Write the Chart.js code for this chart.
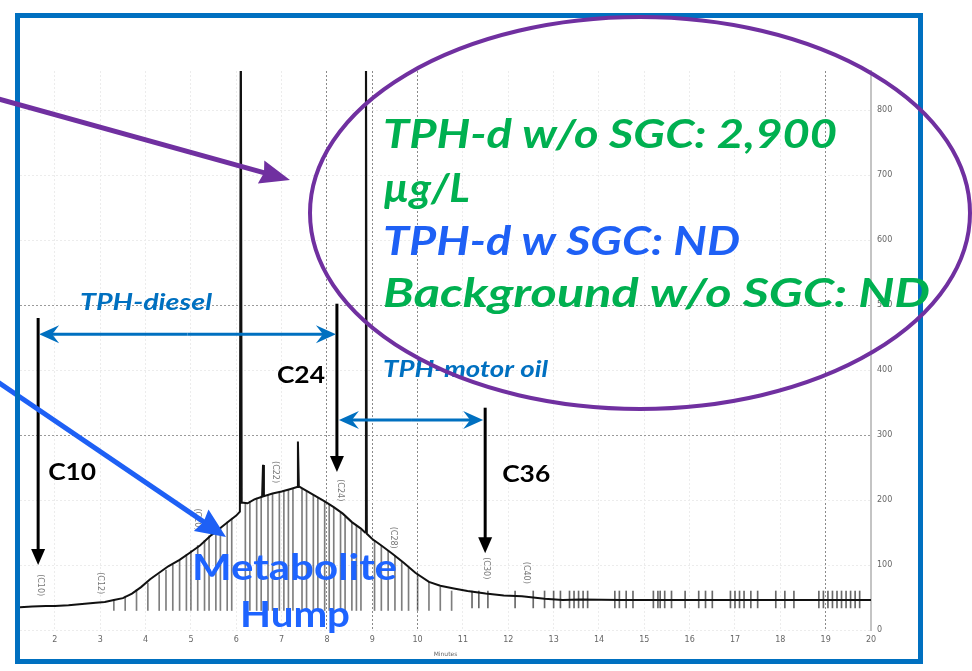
<!DOCTYPE html>
<html>
<head>
<meta charset="utf-8">
<script src="https://cdn.jsdelivr.net/npm/chart.js@4.4.1/dist/chart.umd.min.js"></script>
<style>
  html, body { margin: 0; padding: 0; background: #fff; }
  #wrap { width: 972px; height: 671px; }
</style>
</head>
<body>
<div id="wrap"><canvas id="chrom" width="972" height="671"></canvas></div>
<script>
// Chromatogram trace: retention time (minutes) and detector response
const traceTimes = [1.23, 1.5, 1.8, 2.0, 2.3, 2.6, 2.9, 3.1, 3.3, 3.5, 3.7, 3.9, 4.1, 4.3, 4.5, 4.75, 5.0, 5.2, 5.45, 5.65, 5.85, 6.0, 6.08, 6.1, 6.12, 6.25, 6.4, 6.57, 6.59, 6.61, 6.8, 7.0, 7.2, 7.34, 7.36, 7.38, 7.55, 7.75, 7.95, 8.15, 8.35, 8.55, 8.75, 8.84, 8.86, 8.88, 9.0, 9.2, 9.45, 9.7, 9.95, 10.25, 10.5, 10.8, 11.1, 11.5, 11.9, 12.3, 12.8, 13.2, 13.6, 14.5, 15.5, 16.5, 17.5, 18.5, 19.5, 20];
const traceSignal = [35, 36, 37, 37, 38, 40, 42, 43, 46, 49, 56, 66, 78, 88, 98, 108, 120, 130, 146, 157, 168, 176, 182, 1000, 196, 195, 201, 205, 254, 206, 210, 213, 217, 220, 290, 221, 214, 206, 198, 189, 179, 166, 156, 150, 1000, 148, 140, 130, 117, 103, 88, 74, 68, 64, 60, 56, 53, 52, 48, 46, 47, 46, 46, 46, 46, 46, 46, 46];

// thin scan lines under the hump
const humpLineTimes = [3.3, 3.55, 3.8, 4.05, 4.3, 4.45, 4.6, 4.75, 4.9, 5.0, 5.15, 5.3, 5.4, 5.55, 5.65, 5.8, 5.9, 6.2, 6.3, 6.45, 6.55, 6.7, 6.8, 6.95, 7.05, 7.15, 7.25, 7.45, 7.55, 7.7, 7.8, 7.95, 8.05, 8.15, 8.3, 8.4, 8.55, 8.65, 8.75, 9.05, 9.2, 9.35, 9.5, 9.65, 9.8, 10.0, 10.25, 10.5, 10.75];
const humpLineTops = [47, 52, 62, 72, 85, 92, 100, 107, 116, 122, 130, 138, 145, 152, 158, 166, 172, 196, 198, 203, 206, 208, 210, 212, 214, 216, 218, 218, 214, 208, 204, 198, 193, 188, 180, 174, 165, 160, 154, 138, 130, 121, 114, 104, 96, 86, 74, 66, 60];
const humpLineBase = 30;

// short marks on the late baseline
const baseMarkTimes = [11.2, 11.35, 11.55, 12.15, 12.55, 12.8, 13.0, 13.15, 13.35, 13.45, 13.55, 13.65, 13.75, 14.35, 14.45, 14.6, 14.75, 15.2, 15.3, 15.35, 15.45, 15.6, 15.9, 16.2, 16.35, 16.5, 16.9, 17.0, 17.1, 17.2, 17.35, 17.5, 17.9, 18.1, 18.3, 18.85, 18.95, 19.05, 19.15, 19.25, 19.35, 19.45, 19.55, 19.65, 19.75];
const baseMarkRange = [34, 60];

// axes
const minuteTicks = [2, 3, 4, 5, 6, 7, 8, 9, 10, 11, 12, 13, 14, 15, 16, 17, 18, 19, 20];
const responseTicks = [0, 100, 200, 300, 400, 500, 600, 700, 800];
const strongMinutes = [8, 9, 10, 19];
const strongLevels = [300, 500];

// n-alkane retention markers printed on the trace
const alkaneLabels = ['(C10)', '(C12)', '(C20)', '(C22)', '(C24)', '(C28)', '(C30)', '(C40)'];
const alkaneTimes = [1.67, 3.0, 5.13, 6.85, 8.29, 9.46, 11.5, 12.4];
const alkaneLevels = [69, 72, 170, 243, 215, 142, 95, 88];

// carbon range arrows
const carbonNames = ['C10', 'C24', 'C36'];
const carbonTimes = [1.63, 8.22, 11.49];
const carbonFrom = [480, 502, 342];
const carbonTo = [100, 243, 118];

function arrow(ctx, x1, y1, x2, y2, color, width, len, half, notch) {
  const a = Math.atan2(y2 - y1, x2 - x1);
  ctx.save();
  ctx.strokeStyle = color;
  ctx.fillStyle = color;
  ctx.lineWidth = width;
  ctx.beginPath();
  ctx.moveTo(x1, y1);
  ctx.lineTo(x2 - Math.cos(a) * len * 0.6, y2 - Math.sin(a) * len * 0.6);
  ctx.stroke();
  ctx.translate(x2, y2);
  ctx.rotate(a);
  ctx.beginPath();
  ctx.moveTo(0, 0);
  ctx.lineTo(-len, -half);
  ctx.lineTo(-len * (1 - notch), 0);
  ctx.lineTo(-len, half);
  ctx.closePath();
  ctx.fill();
  ctx.restore();
}

function fitText(ctx, str, x, baseY, width, font, color) {
  ctx.save();
  ctx.font = font;
  ctx.fillStyle = color;
  ctx.textBaseline = 'alphabetic';
  ctx.textAlign = 'left';
  const w = ctx.measureText(str).width;
  ctx.translate(x, baseY);
  ctx.scale(width / w, 1);
  ctx.fillText(str, 0, 0);
  ctx.restore();
}

const overlay = {
  id: 'overlay',
  afterDatasetsDraw(chart) {
    const ctx = chart.ctx, xs = chart.scales.x, ys = chart.scales.y;
    ctx.save();
    ctx.font = '8px "DejaVu Sans"';
    ctx.fillStyle = '#777';
    ctx.textAlign = 'center';
    ctx.textBaseline = 'middle';
    alkaneLabels.forEach((lab, i) => {
      ctx.save();
      ctx.translate(xs.getPixelForValue(alkaneTimes[i]), ys.getPixelForValue(alkaneLevels[i]));
      ctx.rotate(Math.PI / 2);
      ctx.fillText(lab, 0, 0);
      ctx.restore();
    });
    ctx.restore();
  },
  afterDraw(chart) {
    const ctx = chart.ctx, xs = chart.scales.x, ys = chart.scales.y;

    // carbon arrows and range arrows
    const cx = carbonTimes.map(t => xs.getPixelForValue(t));
    carbonNames.forEach((n, i) => {
      arrow(ctx, cx[i], ys.getPixelForValue(carbonFrom[i]), cx[i], ys.getPixelForValue(carbonTo[i]), '#000', 3, 16, 7, 0);
    });
    const dieselY = ys.getPixelForValue(455), motorY = ys.getPixelForValue(323);
    arrow(ctx, (cx[0] + cx[1]) / 2, dieselY, cx[0] + 1, dieselY, '#0070C0', 3, 20, 9, 0.35);
    arrow(ctx, (cx[0] + cx[1]) / 2, dieselY, cx[1] - 1, dieselY, '#0070C0', 3, 20, 9, 0.35);
    arrow(ctx, (cx[1] + cx[2]) / 2, motorY, cx[1] + 2, motorY, '#0070C0', 3, 20, 9, 0.35);
    arrow(ctx, (cx[1] + cx[2]) / 2, motorY, cx[2] - 2, motorY, '#0070C0', 3, 20, 9, 0.35);
    fitText(ctx, 'TPH-diesel', 80, 310, 132, 'italic bold 22px Lato', '#0070C0');
    fitText(ctx, 'TPH-motor oil', 383, 377, 165, 'italic bold 22px Lato', '#0070C0');
    fitText(ctx, 'C10', cx[0] + 10, 480, 48, 'bold 22px Lato', '#000');
    fitText(ctx, 'C24', cx[1] - 60, 383, 48, 'bold 22px Lato', '#000');
    fitText(ctx, 'C36', cx[2] + 17, 482, 48, 'bold 22px Lato', '#000');

    // metabolite hump callout
    arrow(ctx, -5, 380, 226, 537, '#1E60F5', 5, 30, 13, 0.1);
    fitText(ctx, 'Metabolite', 192, 580, 205, 'bold 37px Lato', '#1E64FF');
    fitText(ctx, 'Hump', 240, 627, 110, 'bold 37px Lato', '#1E64FF');

    // frame
    ctx.save();
    ctx.strokeStyle = '#0070C0';
    ctx.lineWidth = 5;
    ctx.strokeRect(17.5, 15.5, 903, 646);
    ctx.restore();

    // results callout
    arrow(ctx, -5, 98, 290, 180, '#7030A0', 5, 30, 12, 0.1);
    ctx.save();
    ctx.strokeStyle = '#7030A0';
    ctx.lineWidth = 4;
    ctx.beginPath();
    ctx.ellipse(640, 213, 330, 196, 0, 0, Math.PI * 2);
    ctx.stroke();
    ctx.restore();
    fitText(ctx, 'TPH-d w/o SGC: 2,900', 383, 148, 454, 'italic bold 41px Lato', '#00B050');
    fitText(ctx, 'µg/L', 383, 202, 87, 'italic bold 41px Lato', '#00B050');
    fitText(ctx, 'TPH-d w SGC: ND', 383, 255, 357, 'italic bold 41px Lato', '#1E60F5');
    fitText(ctx, 'Background w/o SGC: ND', 383, 307, 547, 'italic bold 41px Lato', '#00B050');
  }
};

const ctx = document.getElementById('chrom').getContext('2d');

const chromChart = new Chart(ctx, {
  type: 'line',
  data: {
    datasets: [{
      type: 'line',
      data: traceTimes.map((t, i) => ({ x: t, y: traceSignal[i] })),
      borderColor: '#111',
      borderWidth: 2,
      pointRadius: 0,
      tension: 0,
      order: 0
    }, {
      type: 'bar',
      data: humpLineTimes.map((t, i) => ({ x: t, y: [humpLineBase, humpLineTops[i]] })),
      backgroundColor: 'rgba(40,40,40,0.6)',
      barThickness: 1,
      grouped: false,
      order: 2
    }, {
      type: 'bar',
      data: baseMarkTimes.map(t => ({ x: t, y: baseMarkRange })),
      backgroundColor: 'rgba(40,40,40,0.7)',
      barThickness: 1,
      grouped: false,
      order: 2
    }]
  },
  options: {
    responsive: false,
    animation: false,
    layout: { padding: { left: 20, top: 71, right: 61, bottom: 11 } },
    plugins: { legend: { display: false }, tooltip: { enabled: false } },
    scales: {
      x: {
        type: 'linear',
        min: 1.23,
        max: 20,
        offset: false,
        afterBuildTicks: s => { s.ticks = minuteTicks.map(v => ({ value: v })); },
        afterFit: s => { s.height = 30; },
        ticks: { font: { size: 8, family: 'DejaVu Sans' }, color: '#666', padding: 5, maxRotation: 0 },
        grid: {
          offset: false,
          drawTicks: false,
          color: c => strongMinutes.includes(c.tick && c.tick.value) ? '#8a8a8a' : '#ececec',
          lineWidth: 1
        },
        border: { display: false, dash: [2, 2] },
        title: { display: true, text: 'Minutes', font: { size: 6, family: 'DejaVu Sans' }, color: '#666', padding: { top: 1, bottom: 2 } }
      },
      y: {
        type: 'linear',
        position: 'right',
        min: 0,
        max: 860,
        afterBuildTicks: s => { s.ticks = responseTicks.map(v => ({ value: v })); },
        afterFit: s => { s.width = 40; },
        ticks: { font: { size: 8, family: 'DejaVu Sans' }, color: '#666', padding: 6 },
        grid: {
          drawTicks: false,
          color: c => strongLevels.includes(c.tick && c.tick.value) ? '#9a9a9a' : '#ececec',
          lineWidth: 1
        },
        border: { display: true, color: '#c4c4c4', width: 2, dash: [2, 2] }
      }
    }
  },
  plugins: [overlay]
});
</script>
</body>
</html>
